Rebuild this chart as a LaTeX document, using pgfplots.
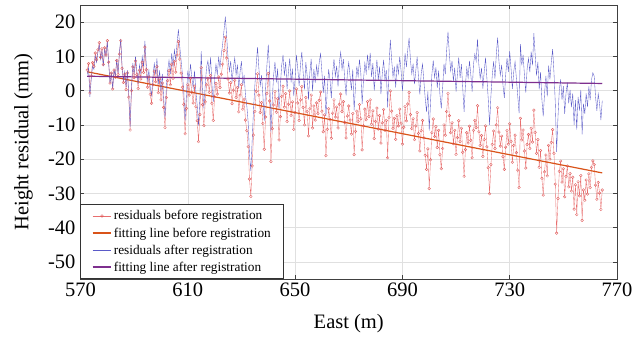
\documentclass[border=0pt]{standalone}
\usepackage{fontspec}
\setmainfont{Liberation Serif}
\usepackage{pgfplots}
\usepackage{pgfplotstable}
\pgfplotsset{compat=1.18}
\definecolor{redres}{RGB}{232,110,110}
\definecolor{redmark}{RGB}{222,80,80}
\definecolor{blueres}{RGB}{90,90,200}
\definecolor{fitred}{RGB}{217,83,25}
\definecolor{fitblue}{RGB}{126,47,142}
\pgfplotstableread{
x red blue
572.5 6.0 4.7
573 7.9 6.7
573.5 -0.7 -1.8
574 4.3 3.2
574.5 8.2 7.2
575 7.1 6.2
575.5 11.0 10.2
576 9.0 8.2
576.5 11.9 11.2
577 14.0 13.4
577.5 9.7 9.1
578 12.2 11.6
578.5 7.6 7.1
579 12.5 12.1
579.5 10.4 10.1
580 14.6 14.3
580.5 8.3 8.1
581 2.2 2.1
581.5 5.1 5.1
582 0.5 0.6
582.5 6.0 6.1
583 3.9 4.1
583.5 8.8 9.1
584 4.7 5.1
584.5 10.7 11.1
585 14.6 15.1
585.5 6.5 7.1
586 2.4 3.1
586.5 4.8 5.6
587 0.3 1.1
587.5 5.2 6.0
588 -1.9 -1.0
588.5 -11.5 -10.5
589 0.0 1.0
589.5 6.9 8.0
590 3.8 5.0
590.5 8.7 10.0
591 4.7 6.0
591.5 0.6 2.0
592 6.0 7.5
592.5 3.4 5.0
593 8.3 10.0
593.5 5.3 7.0
594 12.7 14.5
594.5 6.1 8.0
595 1.0 3.0
595.5 4.0 6.0
596 -1.1 1.0
596.5 -3.7 -1.5
597 1.7 4.0
597.5 5.7 7.9
598 2.6 4.9
598.5 7.0 9.4
599 -0.6 1.9
599.5 3.4 5.9
600 -2.7 -0.1
600.5 2.2 4.9
601 -4.9 -2.1
601.5 -10.8 -7.9
602 -2.0 0.9
602.5 2.9 5.9
603 5.8 8.9
603.5 1.7 4.9
604 7.7 10.9
604.5 3.6 6.9
605 8.5 11.9
605.5 5.4 8.9
606 10.4 13.9
606.5 14.3 17.9
607 9.2 12.9
607.5 5.1 8.8
608 1.0 4.8
608.5 -4.0 -0.2
609 -12.6 -8.7
609.5 -5.2 -1.2
610 1.7 5.8
610.5 -1.3 2.8
611 3.6 7.8
611.5 -0.5 3.8
612 -3.6 0.8
612.5 1.3 5.8
613 -4.7 -0.2
613.5 -8.8 -4.2
614 -14.9 -10.2
614.5 -7.0 -2.2
615 6.7 11.5
615.5 -4.1 0.8
616 -10.2 -5.2
616.5 -3.3 1.8
617 1.7 6.8
617.5 3.6 8.7
618 -0.5 4.7
618.5 4.4 9.7
619 -3.7 1.7
619.5 -8.7 -3.3
620 -1.8 3.7
620.5 2.1 7.7
621 -1.0 4.7
621.5 4.0 9.7
622 0.9 6.7
622.5 4.8 10.6
623 7.7 13.6
623.5 11.7 17.6
624 15.6 21.6
624.5 9.5 15.6
625 3.4 9.6
625.5 -0.7 5.6
626 2.3 8.6
626.5 -3.8 2.6
627 0.1 6.6
627.5 3.0 9.6
628 -2.0 4.6
628.5 0.9 7.6
629 -6.2 0.6
629.5 -1.3 5.6
630 1.7 8.6
630.5 -5.4 1.6
631 -2.5 4.6
631.5 -8.6 -1.4
632 -11.7 -4.4
632.5 -16.4 -9.2
633 -25.8 -18.5
633.5 -30.9 -23.5
634 -22.0 -14.5
634.5 -13.0 -5.5
635 -6.1 1.5
635.5 -0.2 7.5
636 4.9 12.7
636.5 -1.3 6.5
637 -6.4 1.5
637.5 -3.5 4.5
638 -9.6 -1.5
638.5 -17.1 -8.9
639 -7.7 0.5
639.5 -0.8 7.5
640 5.0 13.4
640.5 -3.0 5.5
641 -20.7 -12.2
641.5 -11.1 -2.5
642 -4.2 4.5
642.5 -0.3 8.4
643 -6.3 2.4
643.5 -2.4 6.4
644 -14.4 -5.5
644.5 -7.6 1.4
645 -1.7 7.4
645.5 1.3 10.4
646 -4.8 4.4
646.5 -0.9 8.4
647 -9.0 0.4
647.5 -4.0 5.4
648 -0.1 9.4
648.5 -7.2 2.4
649 -3.3 6.4
649.5 -11.3 -1.6
650 -6.4 3.4
650.5 0.5 10.4
651 -3.6 6.4
651.5 -8.7 1.4
652 -2.7 7.4
652.5 1.2 11.3
653 -4.9 5.3
653.5 -10.0 0.3
654 -2.0 8.3
654.5 -6.1 4.3
655 -13.2 -2.7
655.5 -5.3 5.3
656 -1.3 9.3
656.5 -10.9 -0.2
657 -4.5 6.3
657.5 -8.6 2.3
658 -3.6 7.3
658.5 -6.7 4.3
659 -2.8 8.3
659.5 -0.4 10.8
660 -6.0 5.3
660.5 -12.0 -0.7
661 -7.1 4.3
661.5 -19.0 -7.5
662 -11.3 0.3
662.5 -5.3 6.2
663 -8.4 3.2
663.5 -13.9 -2.2
664 -6.6 5.2
664.5 -2.7 9.2
665 -7.7 4.2
665.5 -4.8 7.2
666 -10.9 1.2
666.5 -4.0 8.2
667 -1.0 11.2
667.5 -6.1 6.2
668 -3.2 9.2
668.5 -9.3 3.2
669 -13.8 -1.4
669.5 -7.4 5.2
670 -4.5 8.2
670.5 -8.6 4.2
671 -12.7 0.2
671.5 -6.7 6.2
672 -18.7 -5.8
672.5 -11.9 1.1
673 -6.0 7.1
673.5 -9.0 4.1
674 -4.1 9.1
674.5 -8.2 5.1
675 -17.3 -3.9
675.5 -10.3 3.1
676 -5.4 8.1
676.5 -8.5 5.1
677 -3.2 10.5
677.5 -7.6 6.0
678 -2.7 11.0
678.5 -9.8 4.0
679 -5.9 8.0
679.5 -14.0 0.0
680 -9.0 5.0
680.5 -5.1 9.0
681 -11.2 3.0
681.5 -7.3 7.0
682 -15.3 -1.0
682.5 -9.4 5.0
683 -5.5 9.0
683.5 -11.6 3.0
684 -8.7 6.0
684.5 -19.6 -4.9
685 -7.8 7.0
685.5 -0.1 14.8
686 -6.0 9.0
686.5 -11.0 4.0
687 -8.1 7.0
687.5 -14.2 0.9
688 -7.3 7.9
688.5 -10.3 4.9
689 -5.4 9.9
689.5 -9.5 5.9
690 -15.6 -0.1
690.5 -10.7 4.9
691 -4.7 10.9
691.5 -8.8 6.9
692 -3.9 11.9
692.5 -0.5 15.4
693 -7.0 8.9
693.5 -11.1 4.9
694 -8.2 7.9
694.5 -14.3 1.9
695 -10.3 5.9
695.5 -6.4 9.9
696 -12.5 3.9
696.5 -17.6 -1.1
697 -11.7 4.9
697.5 -8.7 7.8
698 -13.8 2.8
698.5 -18.9 -2.2
699 -23.0 -6.2
699.5 -17.0 -0.2
700 -28.6 -11.7
700.5 -20.2 -3.2
701 -12.3 4.8
701.5 -8.3 8.8
702 -13.4 3.8
702.5 -10.5 6.8
703 -16.6 0.8
703.5 -11.6 5.8
704 -18.7 -1.2
704.5 -22.8 -5.2
705 -16.9 0.8
705.5 -10.0 7.8
706 -13.0 4.8
706.5 -6.1 11.8
707 -0.8 17.2
707.5 -7.3 10.7
708 -12.3 5.7
708.5 -9.4 8.7
709 -15.5 2.7
709.5 -11.6 6.7
710 -18.6 -0.3
710.5 -13.7 4.7
711 -8.8 9.7
711.5 -14.9 3.7
712 -11.0 7.7
712.5 -18.0 0.7
713 -25.0 -6.2
713.5 -17.2 1.7
714 -12.3 6.7
714.5 -15.3 3.7
715 -10.4 8.7
715.5 -14.5 4.7
716 -19.6 -0.3
716.5 -11.6 7.7
717 -8.7 10.7
717.5 -10.8 8.6
718 -4.4 15.1
718.5 -12.0 7.6
719 -16.0 3.6
719.5 -13.1 6.6
720 -19.2 0.6
720.5 -14.3 5.6
721 -10.3 9.6
721.5 -16.4 3.6
722 -22.5 -2.4
722.5 -30.1 -10.0
723 -21.6 -1.5
723.5 -15.7 4.5
724 -11.8 8.5
724.5 -16.9 3.5
725 -10.0 10.5
725.5 -5.0 15.5
726 -12.1 8.5
726.5 -16.2 4.5
727 -13.3 7.5
727.5 -19.3 1.5
728 -23.0 -2.1
728.5 -16.5 4.5
729 -11.6 9.5
729.5 -15.6 5.5
730 -9.7 11.5
730.5 -14.8 6.5
731 -20.9 0.5
731.5 -16.0 5.5
732 -13.0 8.5
732.5 -18.1 3.4
733 -23.2 -1.6
733.5 -28.3 -6.6
734 -8.1 13.6
734.5 -14.4 7.4
735 -11.5 10.4
735.5 -17.6 4.4
736 -22.6 -0.6
736.5 -15.7 6.4
737 -12.8 9.4
737.5 -16.9 5.4
738 -11.0 11.4
738.5 -15.0 7.4
739 -5.7 16.8
739.5 -12.2 10.4
740 -18.3 4.4
740.5 -14.3 8.4
741 -22.4 0.4
741.5 -17.5 5.4
742 -25.6 -2.6
742.5 -30.5 -7.5
743 -23.7 -0.7
743.5 -18.8 4.3
744 -24.9 -1.7
744.5 -16.0 7.3
745 -20.0 3.3
745.5 -15.1 8.3
746 -11.4 12.1
746.5 -18.3 5.3
747 -27.3 -3.7
747.5 -41.6 -17.9
748 -31.5 -7.7
748.5 -23.6 0.3
749 -20.6 3.3
749.5 -26.7 -2.7
750 -22.8 1.3
750.5 -31.0 -6.8
751 -25.0 -0.7
751.5 -22.0 2.3
752 -28.1 -3.7
752.5 -24.2 0.2
753 -29.3 -4.8
753.5 -25.3 -0.8
754 -34.6 -10.0
754.5 -27.5 -2.8
755 -36.2 -11.4
755.5 -26.6 -1.8
756 -30.7 -5.8
756.5 -24.8 0.2
757 -37.9 -12.8
757.5 -29.0 -3.8
758 -32.0 -6.8
758.5 -26.1 -0.8
759 -30.2 -4.8
759.5 -24.3 1.2
760 -28.3 -2.8
760.5 -22.4 3.2
761 -20.5 5.2
761.5 -21.6 4.2
762 -27.6 -1.8
762.5 -31.7 -5.9
763 -26.8 -0.9
763.5 -29.9 -3.9
764 -34.7 -8.6
764.5 -29.0 -2.9
}\datatable
\begin{document}
\begin{tikzpicture}
\begin{axis}[
  name=ax,
  scale only axis,
  width=536.5pt, height=274pt,
  xmin=570, xmax=770, ymin=-55, ymax=25,
  xtick={570,610,650,690,730,770},
  ytick={-50,-40,-30,-20,-10,0,10,20},
  tick align=inside,
  major tick length=4pt,
  grid=major,
  major grid style={line width=0.5pt, draw=black!12},
  axis line style={draw=black!75, line width=0.8pt},
  every tick/.style={draw=black!75, line width=0.6pt},
  /pgf/number format/assume math mode=true,
  /pgf/number format/set thousands separator={},
  tick label style={font=\fontsize{20.5}{22}\selectfont},
  yticklabel style={xshift=-1.5pt},
  xlabel={East (m)},
  ylabel={Height residual (mm)},
  every axis x label/.style={at={(axis description cs:0.5,0)}, anchor=center, yshift=-45pt, font=\fontsize{20.5}{22}\selectfont},
  every axis y label/.style={at={(axis description cs:0,0.5)}, xshift=-57pt, rotate=90, anchor=center, font=\fontsize{20.5}{22}\selectfont},
  legend style={at={(0,0)}, anchor=south west, draw=black!80, line width=0.7pt,
    font=\fontsize{13.3}{15}\selectfont, fill=white, row sep=2.2pt,
    inner xsep=11pt, inner ysep=4pt, cells={anchor=west}},
  legend image code/.code={\draw[#1, line width=\pgfkeysvalueof{/pgfplots/leglw}] (0cm,0cm) -- (0.3cm,0cm) (0.3cm,0cm) -- (0.65cm,0cm); \draw[#1, draw=none] plot coordinates {(0.33cm,0cm)};},
  leglw/.initial=0.8pt,
]
\addplot[draw=redres, color=redres, line width=0.35pt, mark=o, mark size=1.35pt,
  mark options={draw=redmark, line width=0.3pt}] table[x=x, y=red] {\datatable};
\addlegendentry{residuals before registration}
\addplot[draw=fitred, color=fitred, line width=1.2pt, leglw=1.5pt] coordinates {(572.5,5.5) (764.5,-24.03)};
\addlegendentry{fitting line before registration}
\addplot[draw=blueres, color=blueres, line width=0.35pt, leglw=0.6pt] table[x=x, y=blue] {\datatable};
\addlegendentry{residuals after registration}
\addplot[draw=fitblue, color=fitblue, line width=1.2pt, leglw=1.5pt] coordinates {(572.5,4.2) (764.5,2.09)};
\addlegendentry{fitting line after registration}
\end{axis}
\pgfresetboundingbox
\path ([xshift=-80.5pt,yshift=-66pt]ax.south west) rectangle ([xshift=15pt,yshift=5pt]ax.north east);
\end{tikzpicture}
\end{document}
